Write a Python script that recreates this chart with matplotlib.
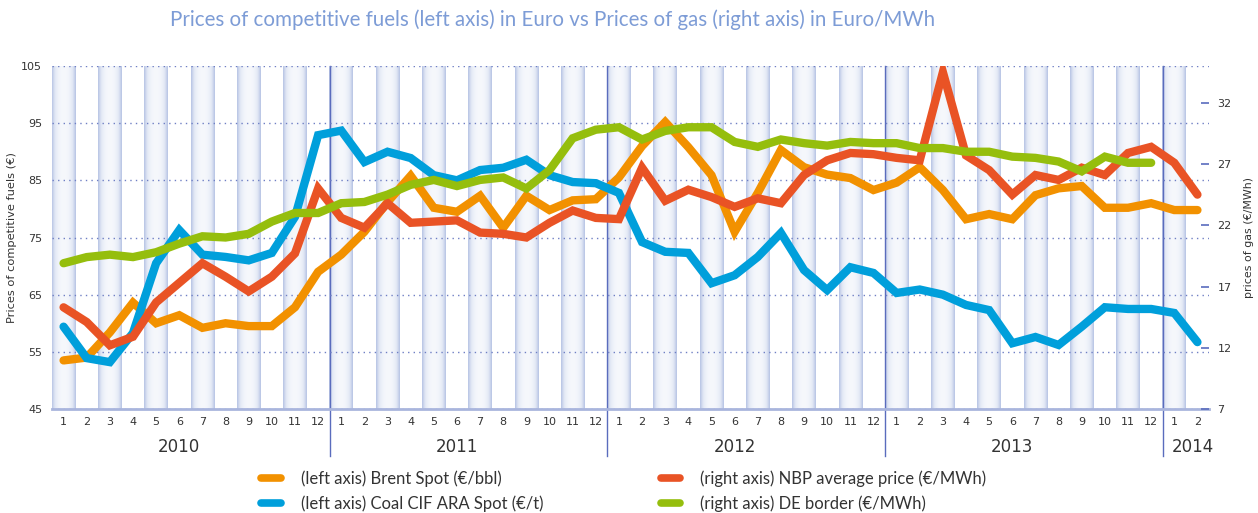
import numpy as np
import matplotlib as mpl
mpl.use('Agg')
import matplotlib.pyplot as plt
from matplotlib.lines import Line2D
from matplotlib.colors import LinearSegmentedColormap

# months Jan 2010 .. Feb 2014
years = ['2010', '2011', '2012', '2013', '2014']
months_in_year = [12, 12, 12, 12, 2]
month_labels = [str(m) for n in months_in_year for m in range(1, n + 1)]

# left axis (EUR)
brent = [53.5, 54.0, 58.4, 63.6, 60.0, 61.4, 59.2, 60.0, 59.5, 59.5, 62.8, 69.0,
         72.0, 76.0, 81.2, 85.8, 80.2, 79.5, 82.3, 76.7, 82.3, 79.8, 81.5, 81.7,
         85.5, 91.0, 95.2, 90.8, 85.9, 76.0, 82.8, 90.3, 87.3, 86.0, 85.4, 83.3,
         84.6, 87.3, 83.3, 78.2, 79.1, 78.2, 82.4, 83.6, 84.0, 80.2, 80.2, 81.0,
         79.8, 79.8]
coal = [59.4, 53.9, 53.2, 58.3, 70.5, 76.3, 72.0, 71.6, 71.0, 72.3, 78.6, 92.9,
        93.7, 88.2, 90.0, 88.9, 85.9, 85.0, 86.8, 87.2, 88.6, 85.9, 84.7, 84.5,
        82.8, 74.2, 72.5, 72.3, 67.0, 68.4, 71.6, 75.8, 69.3, 65.8, 69.8, 68.8,
        65.3, 65.9, 65.0, 63.2, 62.3, 56.5, 57.6, 56.2, 59.4, 62.8, 62.5, 62.5,
        61.8, 56.7]
# right axis (EUR/MWh)
nbp = [15.3, 14.1, 12.2, 12.9, 15.7, 17.3, 18.9, 17.8, 16.6, 17.8, 19.7, 25.0,
       22.6, 21.8, 23.8, 22.2, 22.3, 22.4, 21.4, 21.3, 21.0, 22.2, 23.2, 22.6,
       22.5, 26.7, 24.0, 24.9, 24.3, 23.5, 24.2, 23.8, 26.1, 27.3, 27.9, 27.8,
       27.5, 27.3, 34.5, 27.7, 26.5, 24.5, 26.1, 25.7, 26.7, 26.1, 27.9, 28.4,
       27.1, 24.5]
de_border = [18.9, 19.4, 19.6, 19.4, 19.8, 20.5, 21.1, 21.0, 21.3, 22.3, 23.0, 23.0,
             23.8, 23.9, 24.5, 25.3, 25.7, 25.2, 25.7, 25.9, 25.0, 26.5, 29.1, 29.8,
             30.0, 29.0, 29.7, 30.0, 30.0, 28.8, 28.4, 29.0, 28.7, 28.5, 28.8, 28.7,
             28.7, 28.3, 28.3, 28.0, 28.0, 27.6, 27.5, 27.2, 26.4, 27.6, 27.1, 27.1]

left_ticks = [45, 55, 65, 75, 85, 95, 105]
right_ticks = [7, 12, 17, 22, 27, 32]

c_brent = '#f29100'
c_coal = '#009fdb'
c_nbp = '#e95325'
c_de = '#95be0d'
c_axis = '#5a6cbd'
c_text = '#333333'

x = np.arange(1, len(brent) + 1)
fig = plt.figure(figsize=(12.58, 5.13), dpi=100)
ax = fig.add_axes([52 / 1258, 1 - 409 / 513, (1209 - 52) / 1258, (409 - 66) / 513])
ax.set_xlim(0.5, len(x) + 0.5)
ax.set_ylim(45, 105)

# background stripes with a soft horizontal gradient
stripe_cmap = LinearSegmentedColormap.from_list('stripe', ['#f6f8fc', '#e2e8f5', '#b6c3e4'])
t = np.linspace(-1, 1, 64)
grad = (np.abs(t) ** 2.2)[None, :]
for i in x[::2]:
    ax.imshow(grad, cmap=stripe_cmap, vmin=0, vmax=1, aspect='auto',
              extent=(i - 0.51, i + 0.51, 45, 105), interpolation='bicubic', zorder=0)

ax.set_yticks(left_ticks)
ax.yaxis.grid(True, color='#6f7fc4', linestyle=(0, (1, 3)), linewidth=1)
ax.set_xticks(x)
ax.set_xticklabels(month_labels)
ax.tick_params(axis='x', length=0, pad=6, labelsize=8, labelcolor=c_text)
ax.tick_params(axis='y', length=0, pad=7, labelsize=8, labelcolor=c_text)
for s in ['top', 'left', 'right']:
    ax.spines[s].set_visible(False)
ax.spines['bottom'].set_color('#a9b5dd')
ax.spines['bottom'].set_linewidth(2)
ax.set_ylabel('Prices of competitive fuels (€)', fontsize=8.2, color=c_text, labelpad=3)

# year separators and labels
start = 1
for yr, n in zip(years, months_in_year):
    if start > 1:
        ax.plot([start - 0.5, start - 0.5], [-0.137, 1], transform=ax.get_xaxis_transform(),
                color=c_axis, linewidth=1, clip_on=False, zorder=1)
    xc = start + 5 if n == 12 else start + (n - 1) / 2 + 0.3
    ax.text(xc, -0.11, yr, transform=ax.get_xaxis_transform(), ha='center', va='center',
            fontsize=12, color=c_text)
    start += n

lw = 6
ax.plot(x, brent, color=c_brent, linewidth=lw, solid_capstyle='round', solid_joinstyle='miter', zorder=3)
ax.plot(x, coal, color=c_coal, linewidth=lw, solid_capstyle='round', solid_joinstyle='miter', zorder=3)

ax2 = ax.twinx()
ax2.set_ylim(7, 35)
ax2.set_yticks(right_ticks)
ax2.tick_params(axis='y', direction='in', length=6, width=1.2, color=c_axis, pad=6,
                labelsize=8, labelcolor=c_text)
for s in ['top', 'left', 'right', 'bottom']:
    ax2.spines[s].set_visible(False)
ax2.set_ylabel('prices of gas (€/MWh)', fontsize=7.9, color=c_text, labelpad=9)
ax2.plot(x, nbp, color=c_nbp, linewidth=lw, solid_capstyle='round', solid_joinstyle='miter', zorder=3)
ax2.plot(x[:len(de_border)], de_border, color=c_de, linewidth=lw, solid_capstyle='round',
         solid_joinstyle='miter', zorder=3)

fig.text(553 / 1258, 1 - 20 / 513,
         'Prices of competitive fuels (left axis) in Euro vs Prices of gas (right axis) in Euro/MWh',
         ha='center', va='center', fontsize=14.8, color='#7d9cd6', family='Lato')

handles = [Line2D([], [], color=c, linewidth=5.5, solid_capstyle='round') for c in
           [c_brent, c_coal, c_nbp, c_de]]
labels = ['(left axis) Brent Spot (€/bbl)', '(left axis) Coal CIF ARA Spot (€/t)',
          '(right axis) NBP average price (€/MWh)', '(right axis) DE border (€/MWh)']
fig.legend(handles, labels, ncol=2, loc='upper left', bbox_to_anchor=(253 / 1258, 1 - 462 / 513),
           frameon=False, borderpad=0, handlelength=1.15, handletextpad=1.25, columnspacing=7.0,
           labelspacing=0.5, prop={'family': 'Lato', 'size': 12}, labelcolor=c_text)

fig.savefig('out.png', dpi=100)
